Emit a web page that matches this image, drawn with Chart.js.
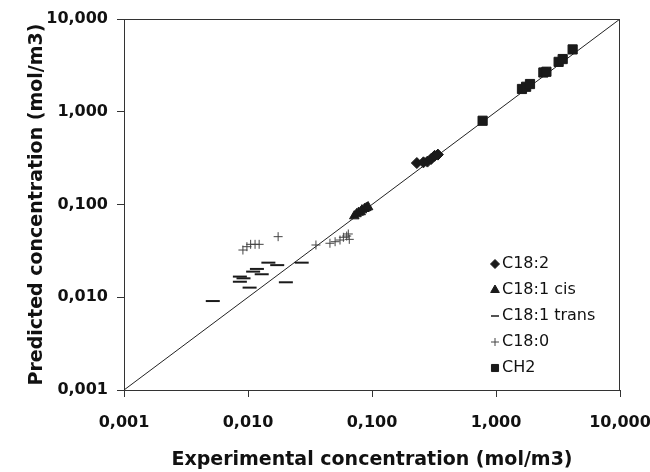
<!DOCTYPE html>
<html>
<head>
<meta charset="utf-8">
<script src="https://cdn.jsdelivr.net/npm/chart.js@4.4.1/dist/chart.umd.min.js"></script>
<style>
  body { margin: 0; background: #fff; }
</style>
</head>
<body>
<canvas id="graficaConc" width="650" height="472"></canvas>
<script>
// valores (mol/m3): [experimental, predicho]
const seriesNames = ["C18:2", "C18:1 cis", "C18:1 trans", "C18:0", "CH2"];

const c182 = [[0.23, 0.28], [0.26, 0.285], [0.28, 0.29], [0.30, 0.31], [0.32, 0.335], [0.34, 0.345]];
const c181cis = [[0.072, 0.075], [0.075, 0.079], [0.078, 0.082], [0.081, 0.083], [0.083, 0.087],
  [0.087, 0.09], [0.09, 0.092], [0.093, 0.094]];
const c181trans = [[0.0052, 0.0091], [0.0086, 0.0167], [0.0092, 0.016], [0.0086, 0.0147], [0.0103, 0.0127],
  [0.011, 0.0189], [0.0118, 0.0202], [0.0129, 0.0177], [0.0146, 0.0236], [0.0172, 0.0222],
  [0.0202, 0.0145], [0.0271, 0.0236]];
const c180 = [[0.0091, 0.0323], [0.0098, 0.0351], [0.0105, 0.0372], [0.0114, 0.0372], [0.0123, 0.0372],
  [0.0175, 0.045], [0.0353, 0.0366], [0.0458, 0.0382], [0.0504, 0.0397], [0.0552, 0.0414],
  [0.0588, 0.0443], [0.0625, 0.0457], [0.0656, 0.0421], [0.0644, 0.0481]];
const ch2 = [[0.78, 0.80], [1.62, 1.76], [1.75, 1.86], [1.88, 1.99], [2.41, 2.65], [2.55, 2.7],
  [3.2, 3.45], [3.45, 3.7], [4.15, 4.7]];

const diagonal = [[0.001, 0.001], [10, 10]];
const tickValues = [0.001, 0.01, 0.1, 1, 10];
const tickLabels = ["0,001", "0,010", "0,100", "1,000", "10,000"];

const pts = arr => arr.map(([x, y]) => ({ x, y }));

// estilo de cada marcador
const estilos = [
  { pointStyle: "rectRot", radius: 5.5, legendRadius: 4.5, color: "#1a1a1a", borderWidth: 1 },
  { pointStyle: "triangle", radius: 5.5, legendRadius: 5, color: "#1a1a1a", borderWidth: 1 },
  { pointStyle: "line", radius: 7, legendRadius: 4, color: "#1a1a1a", borderWidth: 2 },
  { pointStyle: "cross", radius: 4.5, legendRadius: 4, color: "#444", borderWidth: 1 },
  { pointStyle: "rect", radius: 6.5, legendRadius: 5, color: "#1a1a1a", borderWidth: 1 },
];

const series = [c182, c181cis, c181trans, c180, ch2];

const datasets = series.map((s, i) => ({
  label: seriesNames[i],
  data: pts(s),
  pointStyle: estilos[i].pointStyle,
  pointRadius: estilos[i].radius,
  backgroundColor: estilos[i].color,
  borderColor: estilos[i].color,
  borderWidth: estilos[i].borderWidth,
  order: 1,
}));

datasets.push({
  type: "line",
  label: "1:1",
  data: pts(diagonal),
  borderColor: "#222",
  borderWidth: 1,
  pointRadius: 0,
  fill: false,
  order: 10,
});

const fuente = "'DejaVu Sans', sans-serif";

// marco superior y derecho del área del gráfico
const marco = {
  id: "marco",
  afterDraw(chart) {
    const { ctx, chartArea: a } = chart;
    ctx.save();
    ctx.strokeStyle = "#333";
    ctx.lineWidth = 1;
    ctx.beginPath();
    ctx.moveTo(a.left, a.top + 0.5);
    ctx.lineTo(a.right - 0.5, a.top + 0.5);
    ctx.lineTo(a.right - 0.5, a.bottom);
    ctx.stroke();
    ctx.restore();
  },
};

// leyenda dentro del área, abajo a la derecha
const leyenda = {
  id: "leyenda",
  afterDraw(chart) {
    const { ctx, chartArea: a } = chart;
    ctx.save();
    ctx.font = "16px " + fuente;
    ctx.textBaseline = "middle";
    seriesNames.forEach((name, i) => {
      const y = a.bottom - 126 + i * 26;
      const x = a.right - 125;
      ctx.fillStyle = estilos[i].color;
      ctx.strokeStyle = estilos[i].color;
      ctx.lineWidth = estilos[i].pointStyle === "line" ? 1.5 : 1;
      Chart.helpers.drawPoint(ctx, {
        pointStyle: estilos[i].pointStyle,
        radius: estilos[i].legendRadius,
        rotation: 0,
        borderWidth: ctx.lineWidth,
      }, x, y);
      ctx.fillStyle = "#111";
      ctx.fillText(name, x + 7, y);
    });
    ctx.restore();
  },
};

const ejeComun = {
  type: "logarithmic",
  min: 0.001,
  max: 10,
  afterBuildTicks: s => { s.ticks = tickValues.map(v => ({ value: v })); },
  grid: { display: true, drawOnChartArea: false, drawTicks: true, tickLength: 7, color: "#333" },
  border: { display: true, color: "#333", width: 1 },
  ticks: {
    color: "#111",
    font: { family: fuente, size: 16, weight: "bold" },
    autoSkip: false,
    maxRotation: 0,
    callback: v => tickLabels[tickValues.findIndex(t => Math.abs(t - v) < v * 1e-6)] || "",
  },
};

new Chart(document.getElementById("graficaConc"), {
  type: "scatter",
  data: { datasets },
  options: {
    responsive: false,
    animation: false,
    devicePixelRatio: 1,
    layout: { padding: { top: 19, right: 30, left: 0, bottom: 0 } },
    plugins: { legend: { display: false }, tooltip: { enabled: false } },
    scales: {
      x: {
        ...ejeComun,
        position: "bottom",
        ticks: { ...ejeComun.ticks, padding: 16 },
        title: {
          display: true,
          text: "Experimental concentration (mol/m3)",
          color: "#111",
          font: { family: fuente, size: 19, weight: "bold" },
          padding: { top: 0, bottom: 1 },
        },
        afterFit: s => { s.height = 82; s.paddingLeft = 0; s.paddingRight = 0; },
      },
      y: {
        ...ejeComun,
        position: "left",
        ticks: { ...ejeComun.ticks, padding: 9 },
        title: {
          display: true,
          text: "Predicted concentration (mol/m3)",
          color: "#111",
          font: { family: fuente, size: 19, weight: "bold" },
          padding: { top: 26, bottom: 0 },
        },
        afterFit: s => { s.width = 124; s.paddingTop = 0; s.paddingBottom = 0; },
      },
    },
  },
  plugins: [marco, leyenda],
});
</script>
</body>
</html>
